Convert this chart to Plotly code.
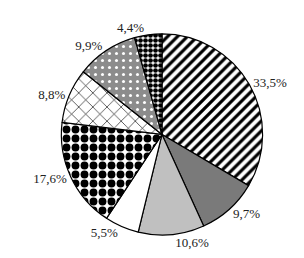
import plotly.graph_objects as go

labels = ["A", "B", "C", "D", "E", "F", "G", "H"]
values = [33.5, 9.7, 10.6, 5.5, 17.6, 8.8, 9.9, 4.4]
texts = ["33,5%", "9,7%", "10,6%", "5,5%", "17,6%", "8,8%", "9,9%", "4,4%"]

bg = ["white", "#7a7a7a", "#c0c0c0", "white", "white", "white", "#8c8c8c", "white"]
shapes = ["/", "", "", "", ".", "x", ".", "."]
fg = ["black", "black", "black", "black", "black", "black", "white", "black"]
sizes = [7, 8, 8, 8, 9, 10, 7, 5]
solid = [0.45, 0.3, 0.3, 0.3, 0.6, 0.12, 0.15, 0.7]

fig = go.Figure(go.Pie(
    labels=labels, values=values, text=texts, textinfo="text",
    textposition="outside", sort=False, direction="clockwise", rotation=0,
    marker=dict(colors=bg, line=dict(color="black", width=1.2),
                pattern=dict(shape=shapes, fgcolor=fg, bgcolor=bg, size=sizes,
                             solidity=solid, fgopacity=1, fillmode="replace")),
    textfont=dict(family="Liberation Serif", size=13, color="#222"),
    domain=dict(x=[0.09, 1.0], y=[0.12, 0.9]),
    showlegend=False, hoverinfo="skip",
))
fig.update_layout(width=304, height=258, margin=dict(l=0, r=0, t=0, b=0),
                  paper_bgcolor="white", plot_bgcolor="white")
fig.write_html("out.html")
